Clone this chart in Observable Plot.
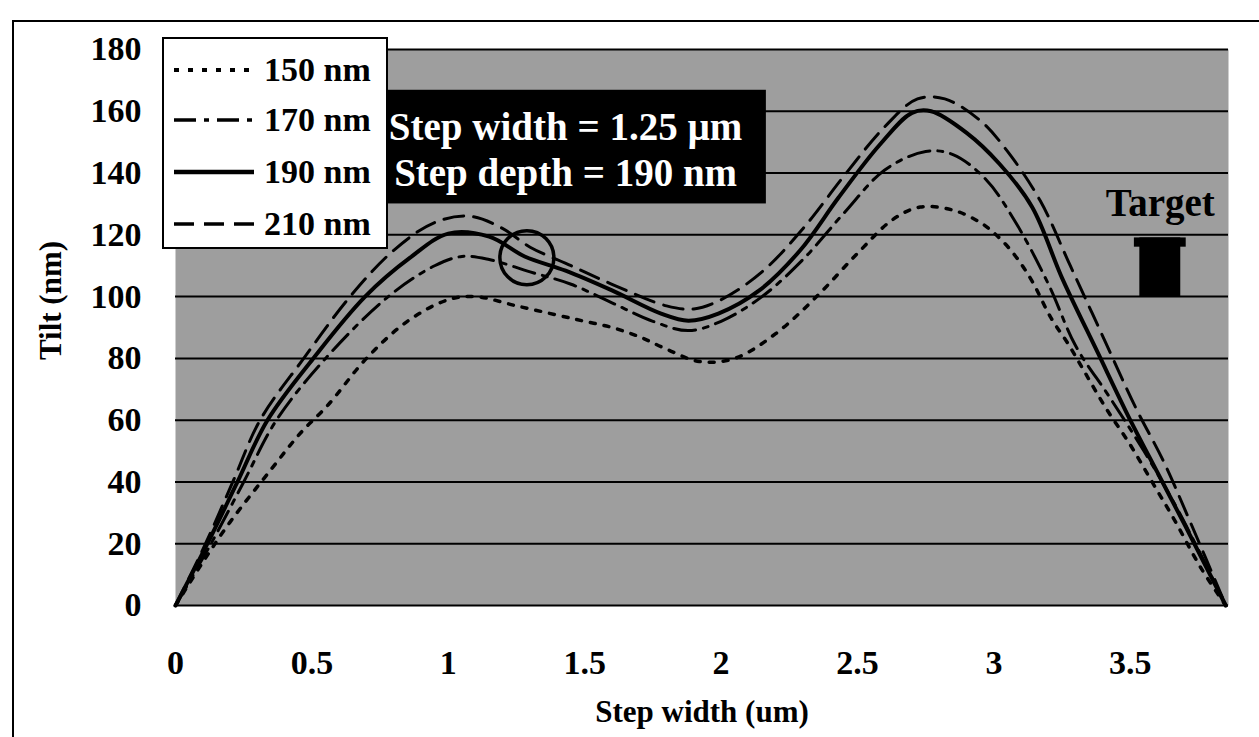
<!DOCTYPE html>
<html>
<head>
<meta charset="utf-8">
<script src="https://cdn.jsdelivr.net/npm/d3@7"></script>
<script src="https://cdn.jsdelivr.net/npm/@observablehq/plot@0.6"></script>
<style>
  html, body { margin: 0; padding: 0; background: #fff; }
  #wrap { position: relative; width: 1259px; height: 737px; overflow: hidden; font-family: "Liberation Serif", "Times New Roman", serif; font-weight: bold; }
  #frame { position: absolute; left: 12px; top: 20px; right: -4px; bottom: -4px; border-top: 2px solid #000; border-left: 2px solid #000; pointer-events: none; }
  #legend { position: absolute; left: 162px; top: 37px; width: 226px; height: 212px; box-sizing: border-box; background: #fff; border: 2px solid #000; }
  .li { position: absolute; left: 8px; height: 40px; display: flex; align-items: center; font-size: 34px; color: #000; white-space: nowrap; }
  .li svg { margin-right: 8px; }
</style>
</head>
<body>
<div id="wrap"><div id="frame"></div></div>
<script>
// ---- data ----
const seriesNames = ["150 nm", "170 nm", "190 nm", "210 nm"];

const x150 = [0, 0.1, 0.2, 0.35, 0.46, 0.56, 0.7, 0.85, 1.0, 1.1, 1.25, 1.4, 1.5, 1.6, 1.7, 1.8, 1.92, 2.05, 2.2, 2.35, 2.5, 2.63, 2.73, 2.85, 2.95, 3.02, 3.08, 3.14, 3.21, 3.27, 3.33, 3.41, 3.5, 3.58, 3.66, 3.76, 3.85];
const y150 = [0, 14, 27, 44, 56, 65, 80, 92, 99, 100, 97, 94, 92, 90, 87, 83, 79, 80, 88, 100, 114, 125, 129, 128, 124, 119, 113, 105, 93, 85, 76, 64, 52, 40, 28, 12, 0];

const x170 = [0, 0.13, 0.25, 0.37, 0.55, 0.78, 0.95, 1.05, 1.15, 1.3, 1.45, 1.6, 1.75, 1.88, 2.0, 2.15, 2.3, 2.45, 2.6, 2.75, 2.85, 2.97, 3.08, 3.2, 3.3, 3.42, 3.55, 3.68, 3.85];
const y170 = [0, 20, 40, 60, 80, 100, 110, 113, 112, 108, 104, 98, 92, 89, 92, 100, 112, 127, 141, 147, 146, 138, 124, 104, 84, 68, 50, 30, 0];

const x190 = [0, 0.117, 0.227, 0.337, 0.505, 0.695, 0.86, 1.0, 1.15, 1.28, 1.43, 1.6, 1.78, 1.88, 1.99, 2.14, 2.29, 2.43, 2.58, 2.7, 2.77, 2.9, 3.02, 3.14, 3.25, 3.38, 3.5, 3.6, 3.7, 3.85];
const y190 = [0, 20, 40, 60, 80, 100, 112.6, 120.4, 119.4, 113, 108.4, 102, 94.5, 92.2, 94.5, 102, 115, 132, 149, 159.5, 160, 153, 143, 129, 106, 82, 60, 43, 26, 0];

const x210 = [0, 0.11, 0.21, 0.31, 0.47, 0.64, 0.8, 0.95, 1.08, 1.2, 1.3, 1.45, 1.6, 1.8, 1.9, 2.0, 2.15, 2.3, 2.45, 2.6, 2.72, 2.82, 2.95, 3.05, 3.17, 3.28, 3.4, 3.52, 3.62, 3.72, 3.85];
const y210 = [0, 20, 40, 60, 80, 100, 115, 124, 126, 122, 116, 110, 104, 97, 96, 99, 108, 122, 139, 155, 164, 164, 157, 147, 131, 110, 87, 64, 47, 27, 0];

const xTicks = [0, 0.5, 1, 1.5, 2, 2.5, 3, 3.5];
const yTicks = [0, 20, 40, 60, 80, 100, 120, 140, 160, 180];

const annotationLines = ["Step width = 1.25 \u00b5m", "Step depth = 190 nm"];
const circleAt = [{x: 1.288, y: 112.6}];
const targetRange = [{x: 3.61, lo: 100, hi: 119}];
const targetLabel = "Target";

// ---- styles per series ----
const styles = {
  "150 nm": {dash: "5,9", width: 3.5},
  "170 nm": {dash: "22,8,5,8", width: 3},
  "190 nm": {dash: null, width: 4},
  "210 nm": {dash: "20,10", width: 3}
};
const xsAll = [x150, x170, x190, x210];
const ysAll = [y150, y170, y190, y210];

const rows = seriesNames.map((s, i) => xsAll[i].map((x, j) => ({s, x, y: ysAll[i][j]})));

const lineMarks = rows.map((r, i) => {
  const st = styles[seriesNames[i]];
  const opts = {x: "x", y: "y", stroke: "#000", strokeWidth: st.width, curve: "catmull-rom"};
  if (st.dash) opts.strokeDasharray = st.dash;
  return Plot.line(r, opts);
});

const chart = Plot.plot({
  width: 1259,
  height: 737,
  marginLeft: 175,
  marginRight: 31,
  marginTop: 49,
  marginBottom: 132,
  x: {domain: [0, 3.86]},
  y: {domain: [0, 180]},
  style: {fontFamily: "Liberation Serif, Times New Roman, serif", fontWeight: "bold", fontSize: "34px", background: "transparent", color: "#000"},
  marks: [
    Plot.frame({fill: "#9e9e9e"}),
    Plot.ruleY(yTicks, {stroke: "#000", strokeWidth: 2}),
    Plot.axisX({ticks: xTicks, tickSize: 0, tickPadding: 44, label: null, fontSize: 34, tickFormat: d => String(d)}),
    Plot.axisY({ticks: yTicks, tickSize: 0, tickPadding: 34, label: null, fontSize: 34}),
    Plot.text(["Step width (um)"], {frameAnchor: "bottom", lineAnchor: "middle", dy: 107, fontSize: 31, fontWeight: "bold"}),
    Plot.text(["Tilt (nm)"], {frameAnchor: "left", textAnchor: "middle", lineAnchor: "middle", dx: -124, dy: -27, rotate: -90, fontSize: 31, fontWeight: "bold"}),
    ...lineMarks,
    Plot.dot(circleAt, {x: "x", y: "y", r: 27, stroke: "#000", strokeWidth: 3.5, fill: "none"}),
    // annotation box
    Plot.rect([{x1: 0.695, x2: 2.166, y1: 130, y2: 166.8}], {x1: "x1", x2: "x2", y1: "y1", y2: "y2", fill: "#000"}),
    Plot.text([{x: 1.43, y: 154.8, t: annotationLines[0]}, {x: 1.43, y: 139.8, t: annotationLines[1]}], {x: "x", y: "y", text: "t", fill: "#fff", fontSize: 39, fontWeight: "bold"}),
    // target
    Plot.rect(targetRange, {x1: d => d.x - 0.075, x2: d => d.x + 0.075, y1: "lo", y2: "hi", fill: "#000"}),
    Plot.rect(targetRange, {x1: d => d.x - 0.095, x2: d => d.x + 0.095, y1: d => d.hi - 3, y2: "hi", fill: "#000"}),
    Plot.text(targetRange, {x: "x", y: d => d.hi + 11, text: () => targetLabel, fontSize: 39, fontWeight: "bold", fill: "#000"})
  ]
});
chart.style.position = "absolute";
chart.style.left = "0px";
chart.style.top = "0px";
const wrap = document.getElementById("wrap");
wrap.insertBefore(chart, wrap.firstChild);

// legend (HTML overlay)
const legend = document.createElement("div");
legend.id = "legend";
const tops = [11, 61, 113, 165];
seriesNames.forEach((s, i) => {
  const st = styles[s];
  const item = document.createElement("div");
  item.className = "li";
  item.style.top = tops[i] + "px";
  item.innerHTML = `<svg width="84" height="10"><line x1="2" y1="5" x2="82" y2="5" stroke="#000" stroke-width="${st.width + 0.5}" ${st.dash ? `stroke-dasharray="${st.dash}"` : ""}/></svg><span>${s}</span>`;
  legend.appendChild(item);
});
wrap.appendChild(legend);
</script>
</body>
</html>
